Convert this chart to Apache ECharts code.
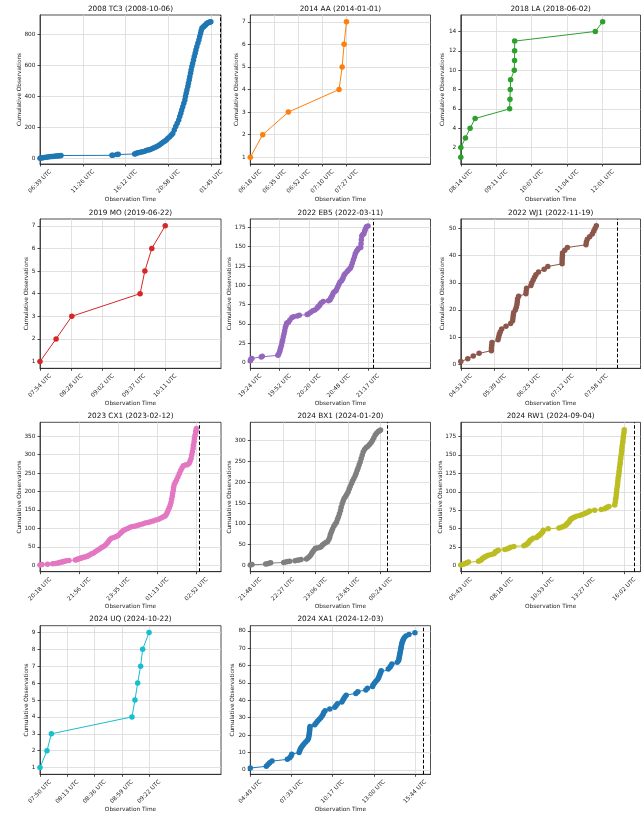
<!DOCTYPE html>
<html><head><meta charset="utf-8">
<script src="https://cdn.jsdelivr.net/npm/echarts@6/dist/echarts.min.js"></script>
<style>html,body{margin:0;padding:0;background:#fff}#c{width:641px;height:814px}</style>
</head><body><div id="c"></div>
<script>
// Times are minutes after 00:00 UTC of the date in the title; second value = cumulative observations.
const titles = ['2008 TC3 (2008-10-06)','2014 AA (2014-01-01)','2018 LA (2018-06-02)','2019 MO (2019-06-22)',
  '2022 EB5 (2022-03-11)','2022 WJ1 (2022-11-19)','2023 CX1 (2023-02-12)','2024 BX1 (2024-01-20)',
  '2024 RW1 (2024-09-04)','2024 UQ (2024-10-22)','2024 XA1 (2024-12-03)'];
const colors = ['#1f77b4','#ff7f0e','#2ca02c','#d62728','#9467bd','#8c564b','#e377c2','#7f7f7f','#bcbd22','#17becf','#1f77b4'];

const obsTC3 = [[399.5,1],[408,2],[417,4],[428,5],[440,6],[451,8],[462,10],[474,11],[485,12],[496,13],[507,14],[516,15],[525,16],[533,17],[540,18],
  [881,19],[887,20],[914,24],[923,26],[1033,28],[1039,30],[1044,32],[1055,35],[1066,38],[1077,40],[1089,43],[1100,46],[1111,50],[1122,53],[1134,56],
  [1145,60],[1156,65],[1167,70],[1178,75],[1190,81],[1201,88],[1212,95],[1223,103],[1234,110],[1245,118],[1256,129],[1268,140],[1279,151],[1288,161],
  [1298,183],[1308,205],[1318,226],[1328,248],[1335,270],[1342,291],[1348,313],[1355,334],[1362,356],[1369,377],[1373,399],[1378,420],[1383,442],
  [1389,464],[1393,485],[1398,507],[1402,528],[1407,550],[1411,571],[1416,593],[1421,614],[1427,636],[1432,658],[1438,679],[1443,700],[1449,722],
  [1456,744],[1463,765],[1468,787],[1474,808],[1478,825],[1483,841],[1490,848],[1496,852],[1501,857],[1507,862],[1512,868],[1518,873],[1525,877],
  [1532,880],[1538,882],[1543,884]];
const obsAA = [[378,1],[386.9,2],[405.3,3],[441.7,4],[443.9,5],[445.3,6],[447,7]];
const obsLA = [[494,1],[494.1,2],[501.4,3],[508.9,4],[516.9,5],[572.1,6],[572.7,7],[573.2,8],[573.7,9],[579.6,10],[580,11],[580.1,12],[580.2,13],[709.3,14],[721,15]];
const obsMO = [[474,1],[491.6,2],[508.8,3],[583.5,4],[588.7,5],[596.3,6],[611,7]];
const obsEB5 = [[1164,2],[1164.5,4],[1165.5,5],[1174.5,7],[1175.5,8],[1190.5,9],[1191,10],[1192,13],[1192.6,16],[1193.2,19],[1193.9,22],[1194.5,26],
  [1195.1,29],[1195.7,33],[1196.4,37],[1197,41],[1197.6,45],[1198.3,48],[1199,51],[1200.6,52],[1202,55],[1204,58],[1205.5,59],[1209,60],[1211,61],
  [1218.6,62],[1220,63],[1222,65],[1224,67],[1226,68],[1228,70],[1229,72],[1230,73],[1231,75],[1232,77],[1234,79],[1239,80],[1240.4,81],[1241.2,83],
  [1242,85],[1242.8,87],[1243.6,90],[1245,92],[1246.2,93],[1247,95],[1248,98],[1249,101],[1250,104],[1251.6,106],[1252.5,108],[1253.2,110],[1254,113],
  [1255,115],[1257,118],[1258.5,120],[1260,122],[1261,125],[1262,129],[1263,133],[1264,137],[1264.8,141],[1266,144],[1267,146],[1268,148],[1270,149],
  [1270.3,154],[1270.6,159],[1271,164],[1272,166],[1273,167],[1273.8,170],[1274.5,173],[1275.5,176],[1277,177]];
const obsWJ1 = [[293,1],[302.5,2],[310,3],[318,4],[334.7,5],[334.8,6],[335.2,7],[335.6,8],[343.8,9],[344.7,10],[345.6,11],[347,12],[348.8,13],[354.7,14],
  [361,15],[363.7,16],[364.2,17],[364.6,18],[365.1,19],[367.4,20],[368.7,21],[369.6,22],[370.1,23],[370.5,24],[371.9,25],[381.9,26],[382.3,27],[382.8,28],
  [388.7,29],[390,30],[391.8,31],[393.7,32],[395.5,33],[399.1,34],[406.8,35],[411.8,36],[431.3,37],[431.3,38],[431.4,39],[431.7,40],[431.8,41],[434.9,42],
  [438.5,43],[463.9,44],[464.4,45],[465.7,46],[468.9,47],[472.5,48],[474.4,49],[476.2,50],[478,51]];
const obsCX1 = [[1218,1],[1223,2],[1237,3],[1250,4],[1257,5],[1263,6],[1266,7],[1269,8],[1274,9],[1277,10],[1280,11],[1285,12],[1291,13],[1307,14],
  [1310,15],[1312,16],[1315,17],[1318,18],[1320,19],[1323,20],[1325,21],[1328,22],[1333,23],[1336,24],[1338,25],[1343,28],[1348,31],[1353,33],[1358,37],
  [1363,41],[1368,44],[1373,48],[1378,51],[1383,55],[1387,60],[1390,64],[1393.5,69],[1398,73],[1404,75],[1410,78],[1415,81],[1420,86],[1424,90],[1428,94],
  [1433,97],[1439,100],[1445,103],[1451,105],[1457,106],[1463,108],[1469,110],[1476,112],[1483,115],[1490,116],[1496,118],[1503,120],[1510,123],[1517,125],
  [1523,128],[1528,131],[1533,134],[1536,138],[1538.6,143],[1541,150],[1543.7,156],[1546,163],[1548,170],[1549.6,179],[1551.3,187],[1552.1,195],
  [1553.8,203],[1554.6,211],[1556.3,219],[1558.9,225],[1562.2,232],[1565.6,240],[1569,249],[1572.4,257],[1575.7,264],[1579.1,270],[1584.2,272],
  [1589.2,273],[1593.4,276],[1596,282],[1598.5,290],[1600.2,299],[1601.9,308],[1603.6,317],[1604.4,326],[1606.1,335],[1606.9,344],[1608.6,353],
  [1610.3,362],[1611.2,366],[1612,371]];
const obsBX1 = [[1308,1],[1310,2],[1326.4,3],[1328.4,4],[1330.4,5],[1332.4,6],[1348,7],[1350.4,8],[1352.8,9],[1355.2,10],[1361.6,11],[1364,12],[1366.4,13],
  [1368.8,14],[1375.2,15],[1377.2,18],[1378.8,21],[1380.4,25],[1381.6,29],[1382.8,33],[1384.4,37],[1386,41],[1388.4,42],[1390.8,43],[1392.8,45],[1394.4,49],
  [1396.4,52],[1398.4,55],[1400.4,57],[1402,62],[1403.2,68],[1404,75],[1405.2,81],[1406.4,87],[1408,94],[1409.6,99],[1411.2,104],[1412.4,111],[1413.6,117],
  [1414.8,124],[1416,132],[1416.8,140],[1418,148],[1419.2,155],[1420.4,161],[1422,166],[1423.6,171],[1425.2,177],[1426.4,184],[1427.6,190],[1429.2,197],
  [1430.4,203],[1432,209],[1433.6,216],[1434.8,222],[1436,229],[1437.2,235],[1438.4,242],[1439.6,249],[1440.8,257],[1442,265],[1443.2,273],[1444.8,279],
  [1446.8,284],[1448.8,287],[1450.8,291],[1452.8,296],[1454.4,301],[1456,307],[1457.6,314],[1459.2,318],[1461.2,322],[1462.8,324],[1464,326]];
const obsRW1 = [[343,1],[353,2],[360,3],[366,4],[372,5],[410,6],[416,7],[421,8],[426,10],[431,11],[435,12],[441,13],[447,14],[458,15],[469,16],[473,18],
  [476,19],[481,20],[485,21],[510,22],[520,23],[526,24],[532,25],[544,26],[582,27],[588,28],[592,29],[597,30],[601,32],[605,34],[609,35],[617,37],[630,38],
  [636,40],[640,41],[645,43],[649,44],[653,46],[656,48],[674,50],[715,51],[724,52],[731,53],[737,54],[742,55],[746,57],[750,58],[753,59],[756,61],[759,63],
  [764,64],[768,65],[775,66],[781,67],[793,68],[801,69],[809,70],[815,71],[821,72],[827,73],[831,74],[850,75],[875,76],[888,77],[893,78],[897,79],[904,80],
  [926,82],[928,86],[929,90],[931,93],[932,97],[933,100],[934,104],[936,108],[937,111],[938,115],[939,119],[941,122],[942,126],[943,129],[944,133],[946,137],
  [947,140],[948,144],[949,147],[951,151],[952,155],[953,158],[954,162],[956,166],[957,169],[958,173],[959,176],[961,180],[962,184]];
const obsUQ = [[470,1],[475.9,2],[479.6,3],[547.6,4],[550.1,5],[552.4,6],[554.9,7],[556.6,8],[562,9]];
const obsXA1 = [[289,1],[352.8,2],[359.4,3],[366.1,4],[375.4,5],[436.5,6],[445.8,7],[451.1,8],[453.8,9],[483,10],[485.7,11],[488.3,12],[492.3,13],
  [497.6,14],[502.9,15],[509.5,16],[516.2,17],[520.2,18],[521.5,19],[522.8,20],[524,21],[524.4,22],[525.3,23],[525.7,24],[526.8,25],[545.4,26],[550.7,27],
  [556,28],[562.7,29],[569.3,30],[574.6,31],[578.6,32],[581.3,33],[586.6,34],[605.2,35],[625.1,36],[630.4,37],[635.8,38],[653,39],[657,40],[661,41],
  [665,42],[670.3,43],[708.8,44],[716.8,45],[748.7,46],[755.3,47],[775.3,48],[777.9,49],[783.2,50],[788.6,51],[795.2,52],[799.2,53],[801.8,54],[804.5,55],
  [807.2,56],[809.8,57],[837.7,58],[844.4,59],[848.3,60],[852.3,61],[873.6,62],[878.9,63],[880.2,64],[881.6,65],[882.9,66],[884.2,67],[885.5,68],
  [886.9,69],[888.2,70],[889.5,71],[890.9,72],[892.2,73],[894.8,74],[897.5,75],[901.5,76],[908.1,77],[920.1,78],[944,79]];
const observations = [obsTC3,obsAA,obsLA,obsMO,obsEB5,obsWJ1,obsCX1,obsBX1,obsRW1,obsUQ,obsXA1];

const xTickValues = [[399.5,686,972.5,1259,1545.5],[378,395.25,412.5,429.75,447],[494,550.75,607.5,664.25,721],[474,508.25,542.5,576.75,611],
  [1164,1192.25,1220.5,1248.75,1277],[293,339.25,385.5,431.75,478],[1218,1316.5,1415,1513.5,1612],[1308,1347,1386,1425,1464],
  [343,497.75,652.5,807.25,962],[470,493,516,539,562],[289,452.75,616.5,780.25,944]];
const xTickLabels = [['06:39 UTC','11:26 UTC','16:12 UTC','20:58 UTC','01:45 UTC'],['06:18 UTC','06:35 UTC','06:52 UTC','07:10 UTC','07:27 UTC'],
  ['08:14 UTC','09:11 UTC','10:07 UTC','11:04 UTC','12:01 UTC'],['07:54 UTC','08:28 UTC','09:02 UTC','09:37 UTC','10:11 UTC'],
  ['19:24 UTC','19:52 UTC','20:20 UTC','20:48 UTC','21:17 UTC'],['04:53 UTC','05:39 UTC','06:25 UTC','07:12 UTC','07:58 UTC'],
  ['20:18 UTC','21:56 UTC','23:35 UTC','01:13 UTC','02:52 UTC'],['21:48 UTC','22:27 UTC','23:06 UTC','23:45 UTC','00:24 UTC'],
  ['05:43 UTC','08:18 UTC','10:53 UTC','13:27 UTC','16:02 UTC'],['07:50 UTC','08:13 UTC','08:36 UTC','08:59 UTC','09:22 UTC'],
  ['04:49 UTC','07:33 UTC','10:17 UTC','13:00 UTC','15:44 UTC']];
const xRanges = [[399.5,1611],[378,507.3],[494,781.6],[474,672],[1164,1337],[293,538.3],[1218,1674],[1308,1523.8],[343,1023.6],[470,622.7],[289,1005.8]];
const yTickValues = [[0,200,400,600,800],[1,2,3,4,5,6,7],[2,4,6,8,10,12,14],[1,2,3,4,5,6,7],[0,25,50,75,100,125,150,175],[0,10,20,30,40,50],
  [0,50,100,150,200,250,300,350],[0,50,100,150,200,250,300],[0,25,50,75,100,125,150,175],[1,2,3,4,5,6,7,8,9],[0,10,20,30,40,50,60,70,80]];
const yRanges = [[-37,927],[0.7,7.3],[0.3,15.7],[0.7,7.3],[-7.8,186],[-1.5,53.5],[-17.5,388],[-15.3,344.4],[-8.2,194.2],[0.6,9.4],[-2.6,83]];
const impactTimes = [1605,null,null,null,1282.5,506.6,1619.6,1472,999.7,null,977];

// layout
const colLeft = [40, 250.3, 460.8], colWidth = [181, 180.2, 179.7];
const rowTop = [15, 219, 422.3, 625.7], rowHeight = [149, 149.3, 149.4, 148.6];
const FONT = 'DejaVu Sans';
const gapByDigits = [0, 10.7, 15, 17.8];

const option = {animation:false, backgroundColor:'#fff', title:[], grid:[], xAxis:[], yAxis:[], series:[]};
observations.forEach((data, i) => {
  const r = Math.floor(i/3), c = i%3;
  const left = colLeft[c], top = rowTop[r], w = colWidth[c], h = rowHeight[r];
  option.grid.push({left, top, width:w, height:h, show:true, borderColor:'#222', borderWidth:0.8, backgroundColor:'transparent', outerBoundsMode:'none', containLabel:false});
  option.title.push({text:titles[i], left:left + w/2, top:top - 9.8, textAlign:'center', padding:0,
    textStyle:{fontFamily:FONT, fontSize:7.3, fontWeight:'normal', color:'#111'}});
  const ticks = xTickValues[i], labels = xTickLabels[i];
  option.xAxis.push({type:'value', gridIndex:i, min:xRanges[i][0], max:xRanges[i][1],
    name:'Observation Time', nameLocation:'middle', nameGap:32, nameMoveOverlap:false,
    nameTextStyle:{fontFamily:FONT, fontSize:5.8, color:'#222'},
    axisLine:{show:true, onZero:false, lineStyle:{color:'#222', width:0.8}},
    axisTick:{show:true, length:2.5, customValues:ticks, lineStyle:{color:'#222', width:0.8}},
    axisLabel:{customValues:ticks, rotate:45, align:'center', verticalAlign:'middle', margin:17.5, fontFamily:FONT, fontSize:5.8, color:'#222',
      formatter:(v)=>{const k = ticks.findIndex(t=>Math.abs(t-v)<1e-6); return k>=0 ? labels[k] : '';}},
    splitLine:{show:true, lineStyle:{color:'#d9d9d9', width:0.8}}});
  const yt = yTickValues[i];
  const digits = Math.max(...yt.map(v=>String(v).length));
  option.yAxis.push({type:'value', gridIndex:i, min:yRanges[i][0], max:yRanges[i][1],
    name:'Cumulative Observations', nameLocation:'middle', nameGap:gapByDigits[digits], nameMoveOverlap:false,
    nameTextStyle:{fontFamily:FONT, fontSize:5.8, color:'#222'},
    axisLine:{show:true, onZero:false, lineStyle:{color:'#222', width:0.8}},
    axisTick:{show:true, length:2.5, customValues:yt, lineStyle:{color:'#222', width:0.8}},
    axisLabel:{customValues:yt, margin:4.5, fontFamily:FONT, fontSize:5.8, color:'#222'},
    splitLine:{show:true, lineStyle:{color:'#d9d9d9', width:0.8}}});
  const s = {type:'line', xAxisIndex:i, yAxisIndex:i, data, symbol:'circle', symbolSize:5.5, showSymbol:true, showAllSymbol:true,
    lineStyle:{color:colors[i], width:1}, itemStyle:{color:colors[i]}, emphasis:{disabled:true}, silent:true, animation:false};
  if (impactTimes[i] != null) {
    s.markLine = {silent:true, symbol:'none', animation:false, label:{show:false},
      lineStyle:{color:'#000', type:[3.5,2], width:1}, data:[{xAxis:impactTimes[i]}]};
  }
  option.series.push(s);
});
const chart = echarts.init(document.getElementById('c'), null, {renderer:'canvas'});
chart.setOption(option);
</script></body></html>
